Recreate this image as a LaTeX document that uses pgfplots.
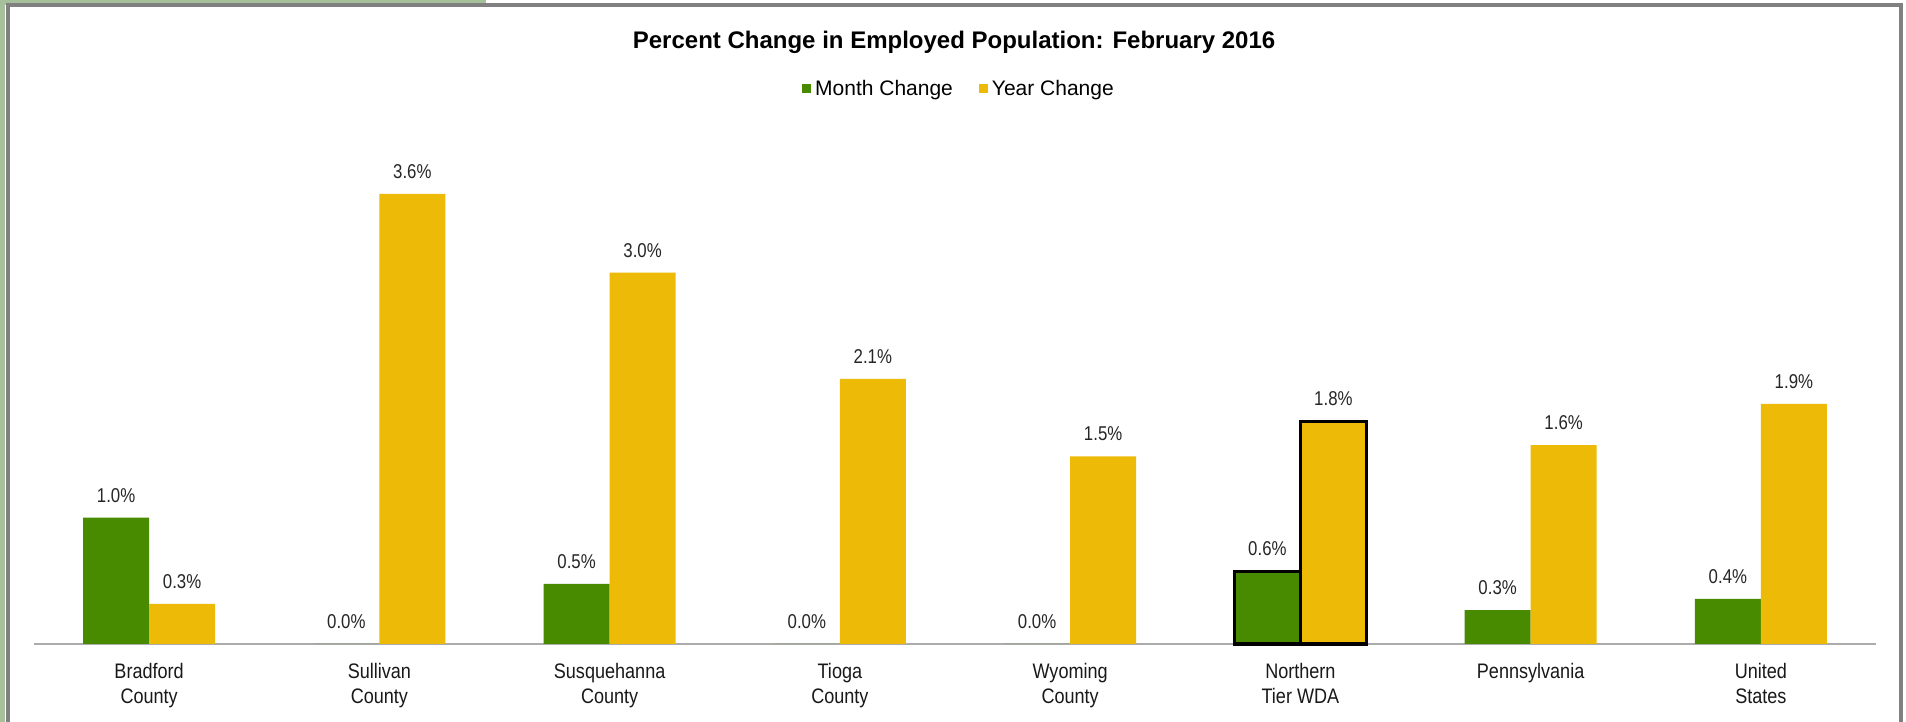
\documentclass[border=0pt]{standalone}
\usepackage{fontspec}
\setmainfont{Liberation Sans}
\newfontfamily\condA[FakeStretch=0.84]{Liberation Sans}
\newfontfamily\condB[FakeStretch=0.86]{Liberation Sans}
\usepackage{pgfplots}
\usepackage{pgfplotstable}
\pgfplotsset{compat=1.18}
\definecolor{mgreen}{RGB}{72,138,0}
\definecolor{ygold}{RGB}{238,186,8}
\definecolor{framegray}{RGB}{128,128,128}
\definecolor{sage}{RGB}{165,192,155}
\pgfplotstableread{
x m ml y yl
0 1.01 1.0 0.32 0.3
1 0.00 0.0 3.60 3.6
2 0.48 0.5 2.97 3.0
3 0.00 0.0 2.12 2.1
4 0.00 0.0 1.50 1.5
5 0.58 0.6 1.78 1.8
6 0.27 0.3 1.59 1.6
7 0.36 0.4 1.92 1.9
}\datatab
\begin{document}
\begin{tikzpicture}
\path[use as bounding box] (0,0) rectangle (953pt,361pt);
\fill[white] (0,0) rectangle (953pt,361pt);
\fill[sage] (0,0) rectangle (2.6pt,361pt);
\fill[sage] (0,358.5pt) rectangle (243pt,361pt);
\begin{axis}[
  at={(17pt,39pt)}, anchor=south west,
  width=921pt, height=250pt, scale only axis,
  xmin=-0.5, xmax=7.5, ymin=0, ymax=4,
  ybar, bar width=33pt,
  axis y line=none, axis x line=bottom,
  axis line style={-, draw=gray!65, line width=0.6pt},
  xtick={0,...,7},
  xticklabels={{Bradford\\County},{Sullivan\\County},{Susquehanna\\County},{Tioga\\County},{Wyoming\\County},{Northern\\Tier WDA},{Pennsylvania},{United\\States}},
  xtick style={draw=none},
  xticklabel style={align=center, font=\condB\fontsize{10.5}{12.2}\selectfont, inner sep=0pt, anchor=north, yshift=-7.5pt, text=black!90},
  clip=false,
  legend style={at={(0.5027,1.11)}, anchor=center, draw=none, fill=none, legend columns=2,
    font=\fontsize{10.5}{12}\selectfont,
    /tikz/every even column/.append style={column sep=11pt}},
  legend image code/.code={\fill[#1] (0pt,-2.25pt) rectangle (4.5pt,2.25pt);},
  title={Percent Change in Employed Population: February 2016},
  title style={at={(0.4995,1.18)}, anchor=center, font=\bfseries\fontsize{12}{14}\selectfont},
  every node near coord/.append style={font=\condA\fontsize{10}{11}\selectfont, anchor=south, inner sep=0pt, yshift=7.5pt, text=black!85},
]
\addplot[fill=mgreen, draw=none, bar shift=-16.5pt,
  point meta=explicit symbolic, nodes near coords={\pgfplotspointmeta\%}]
  table[x=x, y=m, meta=ml] {\datatab};
\addlegendentry{Month Change}
\addplot[fill=ygold, draw=none, bar shift=16.5pt,
  point meta=explicit symbolic, nodes near coords={\pgfplotspointmeta\%}]
  table[x=x, y=y, meta=yl] {\datatab};
\addlegendentry{Year Change}
\addplot[fill=mgreen, draw=black, line width=1.8pt, bar shift=-16.5pt, forget plot]
  coordinates {(5,0.58)};
\addplot[fill=ygold, draw=black, line width=1.8pt, bar shift=16.5pt, forget plot]
  coordinates {(5,1.78)};
\end{axis}
\draw[framegray, line width=2pt] (3.8pt,-2pt) -- (3.8pt,358.3pt) -- (950.5pt,358.3pt) -- (950.5pt,-2pt);
\end{tikzpicture}
\end{document}
